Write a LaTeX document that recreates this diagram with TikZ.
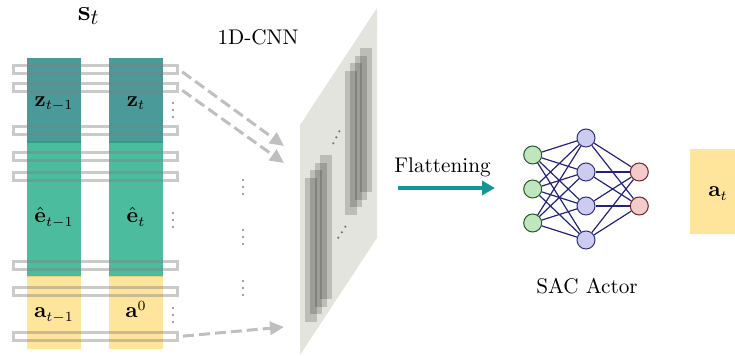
\documentclass[tikz,border=0pt]{standalone}
\usetikzlibrary{arrows.meta}

\definecolor{zteal}{RGB}{74,154,154}
\definecolor{egreen}{RGB}{75,188,158}
\definecolor{ayellow}{RGB}{255,228,156}
\definecolor{planegray}{RGB}{228,228,222}
\definecolor{flatteal}{RGB}{20,150,150}
\definecolor{wirec}{RGB}{35,35,125}
\definecolor{infill}{RGB}{192,230,192}
\definecolor{indraw}{RGB}{40,90,40}
\definecolor{hidfill}{RGB}{204,204,242}
\definecolor{hiddraw}{RGB}{50,50,120}
\definecolor{outfill}{RGB}{242,204,204}
\definecolor{outdraw}{RGB}{110,40,40}
\definecolor{ztealline}{RGB}{46,160,130}
\definecolor{ayellowline}{RGB}{238,208,120}

\tikzset{
  txt/.style={inner sep=0pt, font=\fontsize{10.6}{12.7}\selectfont},
  slot/.style={draw=black!50, draw opacity=0.42, line width=1.5pt,
    minimum width=82pt, minimum height=4pt, inner sep=0pt},
  feed/.style={draw=black!25, line width=1.5pt, dash pattern=on 5.5pt off 2.5pt,
    -{Triangle[length=7pt,width=6.5pt]}},
  fmap/.style={fill=black, fill opacity=0.17},
  neuron/.style={circle, line width=0.5pt, minimum size=9pt, inner sep=0pt},
  inp/.style={neuron, draw=indraw, fill=infill},
  hid/.style={neuron, draw=hiddraw, fill=hidfill},
  outn/.style={neuron, draw=outdraw, fill=outfill},
  wire/.style={draw=wirec, line width=0.6pt},
}

\begin{document}
\begin{tikzpicture}[x=0.5pt, y=-0.5pt]
\useasboundingbox (0,0) rectangle (735,356);

% state columns
\foreach \xa/\xb in {27/81, 109/163} {
  \fill[zteal] (\xa,58) rectangle (\xb,142);
  \fill[egreen] (\xa,142) rectangle (\xb,277);
  \fill[ayellow] (\xa,277) rectangle (\xb,349);
  \draw[ztealline, line width=0.6pt] (\xa,142) -- (\xb,142);
  \draw[ayellowline, line width=0.5pt] (\xa,277) -- (\xb,277);
}

% sliding rows
\foreach \n/\y in {1/69.5, 2/88, 3/131, 4/156.5, 5/176.5, 6/266, 7/292, 8/336.5}
  \node[slot] (r\n) at (95.5,\y) {};

% labels of the state
\node[txt, anchor=base west] (st) at (77.5,20.5) {\fontsize{15}{18}\selectfont$\mathbf{s}_t$};
\node[txt, anchor=base] (zl) at (54,106.5) {$\mathbf{z}_{t-1}$};
\node[txt, anchor=base] (zr) at (136,106.5) {$\mathbf{z}_{t}$};
\node[txt, anchor=base] (el) at (54,223) {$\hat{\mathbf{e}}_{t-1}$};
\node[txt, anchor=base] (er) at (136,223) {$\hat{\mathbf{e}}_{t}$};
\node[txt, anchor=base] (al) at (54,318) {$\mathbf{a}_{t-1}$};
\node[txt, anchor=base] (ar) at (136,318) {$\mathbf{a}^{0}$};

% vertical ellipses
\foreach \x/\y in {173/110, 173/220, 173/315, 243/187, 243/237, 243/288}
  \foreach \d in {-7,0,7}
    \fill[black!50] (\x,\y+\d) circle (0.6pt);

% convolution plane
\fill[planegray] (300,125) -- (377,8) -- (377,238) -- (300,355) -- cycle;
\foreach \bx/\by in {319.5/155, 359.5/48}
  \foreach \k in {0,1,2,3}
    \fill[fmap] (\bx-4.8*\k,\by+7.7*\k) rectangle ++(12,144);
\foreach \x/\y in {333.3/143.3, 336.3/137.3, 339.3/131.3, 338.3/237.7, 341.8/232.3, 345.3/226.7}
  \fill[black!55] (\x,\y) circle (0.6pt);
\node[txt, anchor=base] (cnn) at (258,45) {1D-CNN};

% inputs into the convolution
\coordinate (c1) at (284,146);
\coordinate (c2) at (284,163);
\coordinate (c3) at (284,327);
\draw[feed, shorten <=2pt] (r1.east) -- (c1);
\draw[feed, shorten <=2pt] (r2.east) -- (c2);
\draw[feed, shorten <=2pt] (r8.east) -- (c3);

% flattening
\node[txt, anchor=base] (flat) at (442.5,172.7) {Flattening};
\coordinate (f1) at (398,188);
\coordinate (f2) at (495,188);
\draw[flatteal, line width=1.7pt, -{Triangle[length=6.5pt,width=7pt]}] (f1) -- (f2);

% actor network
\foreach \n/\y in {1/155, 2/189, 3/223}
  \node[inp] (i\n) at (532.7,\y) {};
\foreach \n/\y in {1/138, 2/172, 3/206, 4/240}
  \node[hid] (h\n) at (586,\y) {};
\foreach \n/\y in {1/172, 2/206}
  \node[outn] (o\n) at (639.3,\y) {};
\foreach \i in {1,2,3}
  \foreach \j in {1,2,3,4}
    \draw[wire] (i\i) -- (h\j);
\foreach \j in {1,2,3,4}
  \foreach \k in {1,2}
    \draw[wire] (h\j) -- (o\k);
\node[txt, anchor=base] (sac) at (587,294) {SAC Actor};

% action output
\fill[ayellow] (690,149) rectangle (750,234);
\node[txt, anchor=base] (at) at (718,197) {$\mathbf{a}_t$};
\end{tikzpicture}
\end{document}
